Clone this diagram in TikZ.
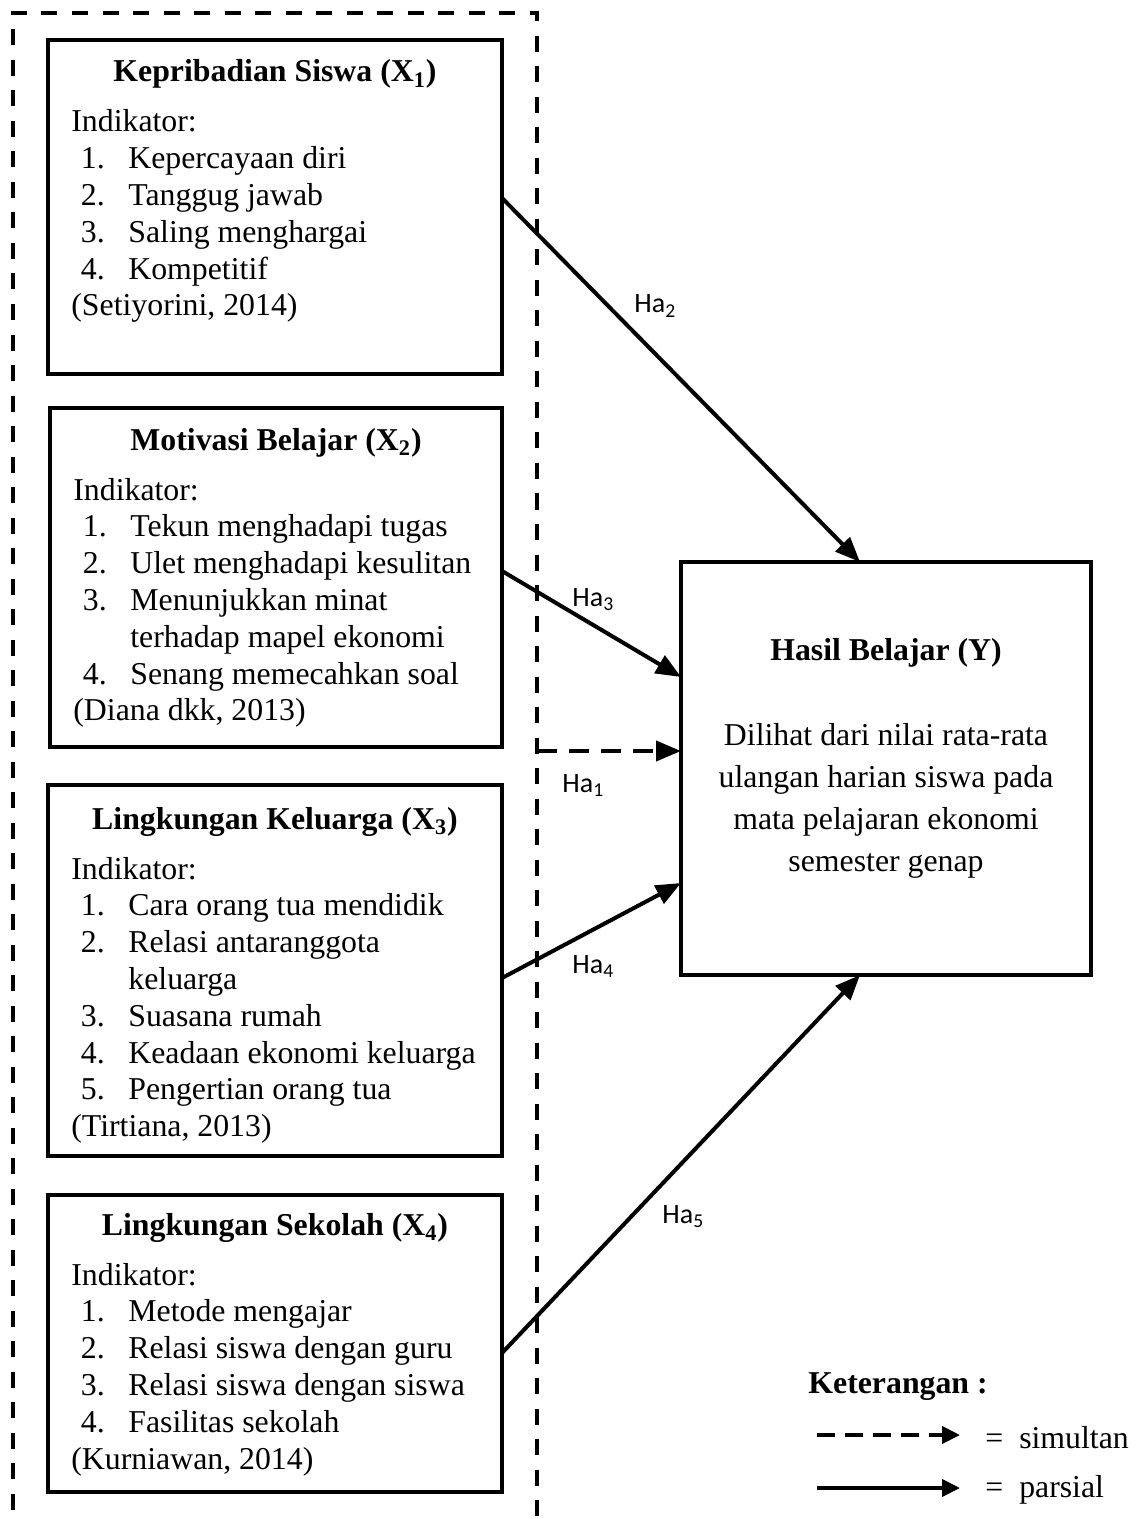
\documentclass[tikz,border=0pt]{standalone}
\usepackage{fontspec}
\setmainfont{Liberation Serif}
\newfontfamily\calibri{Carlito}
\usetikzlibrary{arrows.meta,calc}

\tikzset{
  varbox/.style={draw, line width=2pt, anchor=north west, inner sep=0pt, outer sep=0pt},
  judul/.style={font=\fontsize{15.9}{18.4}\selectfont\bfseries, anchor=base, inner sep=0pt},
  isi/.style={font=\fontsize{15.9}{18.4}\selectfont, anchor=base west, inner sep=0pt},
  panah/.style={line width=2pt, -{Triangle[length=12.5pt,width=10pt]}},
  simul/.style={panah, dash pattern=on 10pt off 6pt},
  bingkai/.style={line width=2pt, dash pattern=on 8pt off 7.25pt},
  hip/.style={font=\calibri\fontsize{14}{16}\selectfont, anchor=base west, inner sep=0pt},
}
\newcommand{\butir}[2]{\hspace*{4.75pt}\makebox[23.75pt][l]{#1.}#2}

\begin{document}
\begin{tikzpicture}[x=0.5pt, y=-0.5pt]
  \useasboundingbox (0,0) rectangle (1140,1519);
  \clip (0,0) rectangle (1140,1519);

  % bingkai putus-putus
  \draw[bingkai] (13,1540) -- (13,13) -- (537,13) -- (537,1540);

  % kotak variabel X
  \node[varbox, minimum width=227pt, minimum height=167pt] (x1) at (48,40) {};
  \node[judul] at ($(x1.north)+(0,42)$) {Kepribadian Siswa (X\textsubscript{1})};
  \node[isi] at ($(x1.north west)+(23,92)$) {\begin{tabular}[t]{@{}l@{}}
      Indikator:\\
      \butir{1}{Kepercayaan diri}\\
      \butir{2}{Tanggug jawab}\\
      \butir{3}{Saling menghargai}\\
      \butir{4}{Kompetitif}\\
      (Setiyorini, 2014)
    \end{tabular}};

  \node[varbox, minimum width=226pt, minimum height=169.5pt] (x2) at (50,408) {};
  \node[judul] at ($(x2.north)+(0,42)$) {Motivasi Belajar (X\textsubscript{2})};
  \node[isi] at ($(x2.north west)+(23,92)$) {\begin{tabular}[t]{@{}l@{}}
      Indikator:\\
      \butir{1}{Tekun menghadapi tugas}\\
      \butir{2}{Ulet menghadapi kesulitan}\\
      \butir{3}{Menunjukkan minat}\\
      \hspace*{28.5pt}terhadap mapel ekonomi\\
      \butir{4}{Senang memecahkan soal}\\
      (Diana dkk, 2013)
    \end{tabular}};

  \node[varbox, minimum width=227pt, minimum height=185.5pt] (x3) at (48,785) {};
  \node[judul] at ($(x3.north)+(0,44)$) {Lingkungan Keluarga (X\textsubscript{3})};
  \node[isi] at ($(x3.north west)+(23,94)$) {\begin{tabular}[t]{@{}l@{}}
      Indikator:\\
      \butir{1}{Cara orang tua mendidik}\\
      \butir{2}{Relasi antaranggota}\\
      \hspace*{28.5pt}keluarga\\
      \butir{3}{Suasana rumah}\\
      \butir{4}{Keadaan ekonomi keluarga}\\
      \butir{5}{Pengertian orang tua}\\
      (Tirtiana, 2013)
    \end{tabular}};

  \node[varbox, minimum width=227pt, minimum height=148.5pt] (x4) at (48,1195) {};
  \node[judul] at ($(x4.north)+(0,40)$) {Lingkungan Sekolah (X\textsubscript{4})};
  \node[isi] at ($(x4.north west)+(23,90)$) {\begin{tabular}[t]{@{}l@{}}
      Indikator:\\
      \butir{1}{Metode mengajar}\\
      \butir{2}{Relasi siswa dengan guru}\\
      \butir{3}{Relasi siswa dengan siswa}\\
      \butir{4}{Fasilitas sekolah}\\
      (Kurniawan, 2014)
    \end{tabular}};

  % kotak Y
  \node[varbox, minimum width=205pt, minimum height=206.5pt] (y) at (681,562) {};
  \node[judul] at ($(y.north)+(0,98)$) {Hasil Belajar (Y)};
  \node[isi, anchor=base, font=\fontsize{15.9}{21.15}\selectfont] at ($(y.north)+(0,183)$)
    {\begin{tabular}[t]{@{}c@{}}
      Dilihat dari nilai rata-rata\\
      ulangan harian siswa pada\\
      mata pelajaran ekonomi\\
      semester genap
    \end{tabular}};

  % panah hipotesis
  \draw[panah] ([yshift=4.5pt]x1.east) -- ([xshift=-13pt]y.north);
  \draw[panah] ([yshift=3.25pt]x2.east) -- ([yshift=45.75pt]y.west);
  \coordinate (sudut) at (537,751);
  \draw[simul] (sudut) -- (sudut -| y.west);
  \draw[panah] ([yshift=-3.75pt]x3.east) -- ([yshift=-57.25pt]y.west);
  \draw[panah] ([yshift=-4.75pt]x4.east) -- ([xshift=-13pt]y.south);

  \node[hip] (ha2) at (634,313) {Ha\textsubscript{2}};
  \node[hip] (ha3) at (572,606) {Ha\textsubscript{3}};
  \node[hip] (ha1) at (562,792) {Ha\textsubscript{1}};
  \node[hip] (ha4) at (572,973) {Ha\textsubscript{4}};
  \node[hip] (ha5) at (662,1223) {Ha\textsubscript{5}};

  % keterangan
  \node[isi, font=\fontsize{15.9}{18.4}\selectfont\bfseries] (ket) at (808,1393) {Keterangan :};
  \coordinate (s1) at (817,1435);
  \coordinate (s2) at (960,1435);
  \coordinate (p1) at (817,1488);
  \coordinate (p2) at (960,1488);
  \draw[line width=2pt, dash pattern=on 9pt off 5pt, -{Triangle[length=9pt,width=8.5pt]}] (s1) -- (s2);
  \draw[line width=2pt, -{Triangle[length=9pt,width=8.5pt]}] (p1) -- (p2);
  \node[isi] (sim) at (985,1448) {= \ simultan};
  \node[isi] (par) at (985,1497) {= \ parsial};
\end{tikzpicture}
\end{document}
